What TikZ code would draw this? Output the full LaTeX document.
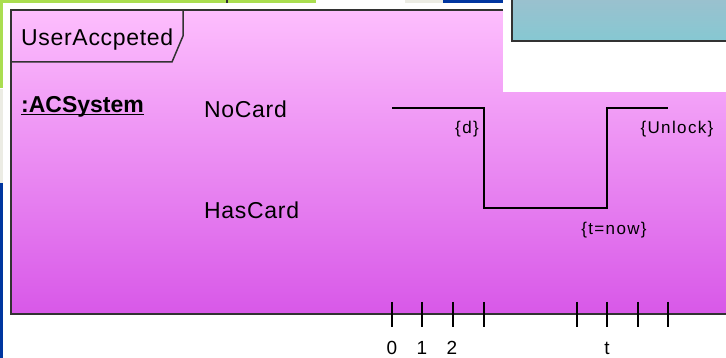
\documentclass[tikz,border=0pt]{standalone}
\usepackage{fontspec}
\setmainfont{Liberation Sans}
\newfontfamily\spacedfont[LetterSpace=8]{Liberation Sans}
\newfontfamily\labelfont[LetterSpace=3]{Liberation Sans}
\usepackage{xcolor}
\definecolor{pinktop}{RGB}{253,190,253}
\definecolor{pinkbottom}{RGB}{216,88,232}
\definecolor{framegray}{RGB}{50,50,50}
\definecolor{tealtop}{RGB}{156,192,206}
\definecolor{tealbottom}{RGB}{134,200,210}
\definecolor{bggreen}{RGB}{170,222,80}
\definecolor{bggray}{RGB}{236,236,228}
\definecolor{bgblue}{RGB}{0,54,160}

\begin{document}
\begin{tikzpicture}[x=1pt, y=-1pt,
	statename/.style={anchor=west, inner sep=0pt, font=\labelfont\fontsize{23}{23}\selectfont},
	constraint/.style={inner sep=0pt, font=\spacedfont\fontsize{17}{17}\selectfont},
	ticklabel/.style={inner sep=0pt, font=\fontsize{19}{19}\selectfont},
	wave/.style={line width=1.6pt},
	tickmark/.style={line width=1.6pt}]
	\useasboundingbox (0,0) rectangle (726,358);
	\clip (0,0) rectangle (726,358);
	\fill[white] (0,0) rectangle (726,358);
	% window behind the diagram
	\fill[bggreen] (0,0) rectangle (226,3);
	\fill[framegray] (226,0) rectangle (228,3);
	\fill[bggreen] (228,0) rectangle (316,3);
	\fill[bggray] (405,0) rectangle (443,3);
	\fill[bgblue] (443,0) rectangle (503,3);
	\fill[bggreen] (0,0) rectangle (3,88);
	\fill[bggray] (0,89) rectangle (3,183);
	\fill[bgblue] (0,183) rectangle (3,358);
	% timing frame
	\shade[top color=pinktop, bottom color=pinkbottom] (11,10) rectangle (760,314);
	\draw[framegray, line width=2pt] (760,10) -- (11,10) -- (11,314) -- (760,314);
	\fill[white] (503,0) rectangle (726,92);
	\shade[top color=tealtop, bottom color=tealbottom] (512,-5) rectangle (740,41);
	\draw[framegray, line width=2pt] (512,-5) -- (512,41) -- (740,41);
	\draw[framegray, line width=1.5pt] (11,62) -- (172,62) -- (183,36) -- (183,10);
	\node[statename] (frametitle) at (21,40) {UserAccpeted};

	\node[anchor=west, inner sep=0pt, font=\fontsize{23}{23}\selectfont\bfseries] (lifeline) at (21,107) {:ACSystem};
	\draw[line width=1.4pt] ([yshift=-2pt]lifeline.base west) -- ([yshift=-2pt]lifeline.base east);
	\node[statename] (nocard) at (204,109) {NoCard};
	\node[statename] (hascard) at (204,210) {HasCard};

	% state line
	\coordinate (w0) at (392,108);
	\coordinate (w1) at (484,108);
	\coordinate (w2) at (484,208);
	\coordinate (w3) at (607,208);
	\coordinate (w4) at (607,108);
	\coordinate (w5) at (668,108);
	\draw[wave] (w0) -- (w1) -- (w2) -- (w3) -- (w4) -- (w5);
	\node[constraint] (dur) at (467,129) {\{d\}};
	\node[constraint] (unlock) at (677,129) {\{Unlock\}};
	\node[constraint] (tnow) at (614,230) {\{t=now\}};

	% time ruler
	\foreach \tx in {392,422,453,484,577,607,638,668}
		\draw[tickmark] (\tx,302) -- (\tx,327);
	\foreach \tx/\tl in {392/0,422/1,452/2,607/t}
		\node[ticklabel] (tick-\tl) at (\tx,348) {\tl};
\end{tikzpicture}
\end{document}
